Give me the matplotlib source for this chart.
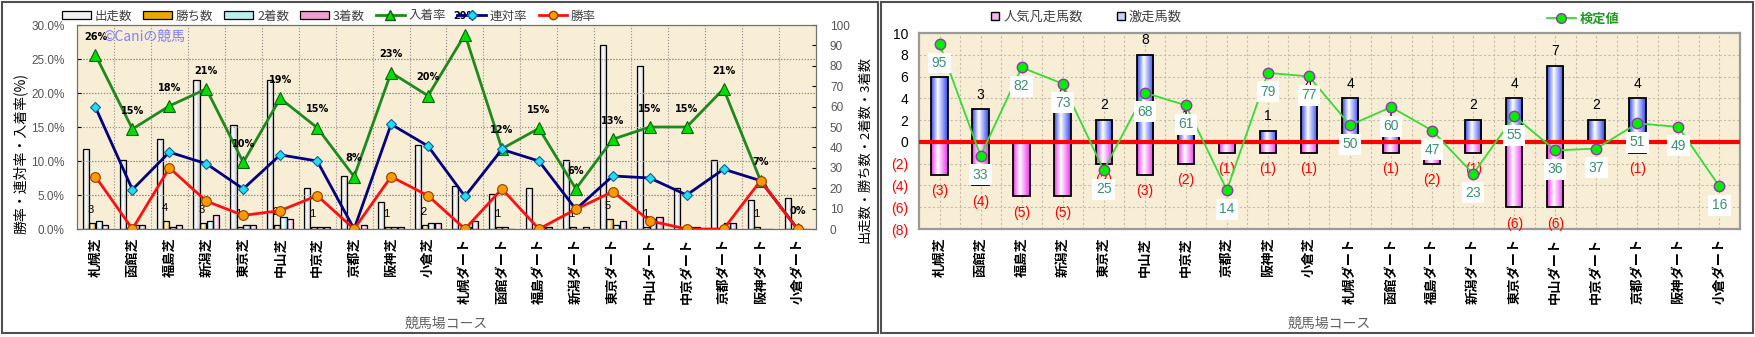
import numpy as np
import matplotlib
matplotlib.use('Agg')
import matplotlib.pyplot as plt
from matplotlib.colors import LinearSegmentedColormap
from matplotlib.lines import Line2D
from matplotlib.patches import Patch, Rectangle
from matplotlib.ticker import FixedLocator

plt.rcParams['font.family'] = ['Noto Sans CJK JP', 'DejaVu Sans']

courses = ['札幌芝', '函館芝', '福島芝', '新潟芝', '東京芝', '中山芝', '中京芝', '京都芝', '阪神芝', '小倉芝',
           '札幌ダート', '函館ダート', '福島ダート', '新潟ダート', '東京ダート', '中山ダート', '中京ダート',
           '京都ダート', '阪神ダート', '小倉ダート']

# left chart: counts (right axis) and rates in % (left axis)
runs = [39, 34, 44, 73, 51, 73, 20, 26, 13, 41, 21, 17, 20, 34, 90, 80, 20, 34, 14, 15]
wins = [3, 0, 4, 3, 1, 2, 1, 0, 1, 2, 0, 1, 0, 1, 5, 1, 0, 0, 1, 0]
seconds = [4, 2, 1, 4, 2, 6, 1, 0, 1, 3, 1, 1, 1, 0, 2, 5, 1, 3, 0, 0]
thirds = [2, 2, 2, 7, 2, 5, 1, 2, 1, 3, 4, 0, 1, 1, 4, 6, 1, 3, 0, 0]
place_rate = [25.6, 14.7, 18.1, 20.6, 9.8, 19.2, 14.9, 7.7, 23.0, 19.6,
              28.6, 11.8, 14.8, 5.9, 13.2, 15.0, 15.0, 20.6, 7.1, 0.0]
quinella_rate = [17.9, 5.8, 11.3, 9.6, 5.9, 10.9, 10.0, 0.0, 15.4, 12.2,
                 4.8, 11.7, 10.0, 2.9, 7.8, 7.5, 5.0, 8.8, 7.1, 0.0]
win_rate = [7.7, 0.0, 9.0, 4.1, 2.0, 2.7, 4.9, 0.0, 7.7, 4.9,
            0.0, 5.9, 0.0, 2.9, 5.5, 1.2, 0.0, 0.0, 7.1, 0.0]

# right chart
hot = [6, 3, 0, 3, 2, 8, 1, 0, 1, 4, 4, 1, 0, 2, 4, 7, 2, 4, 0, 0]
flop = [3, 4, 5, 5, 2, 3, 2, 1, 1, 1, 0, 1, 2, 1, 6, 6, 0, 1, 0, 0]
score = [95, 33, 82, 73, 25, 68, 61, 14, 79, 77, 50, 60, 47, 23, 55, 36, 37, 51, 49, 16]

W, H = 1756, 337
bg = '#F8EDD5'
num_font = 'Liberation Sans'


def shade(ax, bars, color, mid=0.42):
    cmap = LinearSegmentedColormap.from_list('g', [(0, color), (mid, 'white'), (1, color)])
    grad = np.linspace(0, 1, 64).reshape(1, -1)
    for b in bars:
        x0, y0 = b.get_xy()
        w, h = b.get_width(), b.get_height()
        if h == 0:
            continue
        im = ax.imshow(grad, extent=[x0, x0 + w, y0, y0 + h], cmap=cmap, aspect='auto',
                       origin='lower', zorder=b.get_zorder() - 0.05, interpolation='bilinear')
        im.set_clip_path(b)


fig = plt.figure(figsize=(W / 100, H / 100), dpi=100)

# panel frames
fig.add_artist(Rectangle((2 / W, 4 / H), 876 / W, 331 / H, transform=fig.transFigure,
                         fill=False, ec='#505050', lw=1.5))
fig.add_artist(Rectangle((881 / W, 4 / H), 872 / W, 331 / H, transform=fig.transFigure,
                         fill=False, ec='#505050', lw=1.5))

x = np.arange(len(courses))

# ---------------- left chart ----------------
axc = fig.add_axes([77 / W, 1 - 229 / H, 739 / W, 204 / H])
axc.set_facecolor(bg)
bw = 0.165
series = [(runs, '#C4C4C4', -0.265), (wins, '#E8A800', -0.088),
          (seconds, '#8EE4E8', 0.088), (thirds, '#EE88C8', 0.265)]
for vals, col, off in series:
    bars = axc.bar(x + off, vals, width=bw, color='none', edgecolor='black', lw=0.9, zorder=2)
    shade(axc, bars, col)
for i, v in enumerate(wins):
    if v > 0:
        axc.text(i - 0.13, v + 6.2, str(v), ha='center', va='center', fontsize=8,
                 family=num_font, zorder=3)
axc.set_xlim(-0.5, 19.5)
axc.set_ylim(0, 100)
axc.yaxis.set_minor_locator(FixedLocator(np.arange(1, 6) * 100 / 6))
axc.xaxis.set_minor_locator(FixedLocator(np.arange(0.5, 19.5, 1)))
axc.grid(which='minor', color='#8C8C8C', ls=':', lw=0.8)
axc.tick_params(which='minor', length=0)
axc.set_axisbelow(True)
axc.set_xticks(x, courses, rotation=90, fontsize=9.5, fontweight='bold')
axc.tick_params(axis='x', length=0, pad=6)
axc.set_xlabel('競馬場コース', fontsize=10, color='#606060', labelpad=4)
axc.xaxis.set_label_coords(0.5, -0.43)
for s in axc.spines.values():
    s.set_color('#707070')

axp = axc.twinx()
# counts axis on the right, rates axis on the left
axc.yaxis.tick_right()
axc.yaxis.set_label_position('right')
axc.set_yticks(np.arange(0, 101, 10))
axc.tick_params(axis='y', which='major', labelsize=8.5, labelcolor='#555555', direction='in',
                length=3, pad=10, labelfontfamily=num_font)
axc.set_ylabel('出走数・勝ち数・2着数・3着数', fontsize=9.5, rotation=90)
axc.yaxis.set_label_coords(1.057, 0.39)

axp.yaxis.tick_left()
axp.yaxis.set_label_position('left')
axp.plot(x, place_rate, color='#1E8A1E', lw=2, marker='^', ms=8.5, mfc='#00DD00',
         mec='#106010', mew=0.8, zorder=4)
axp.plot(x, quinella_rate, color='#000080', lw=2, marker='D', ms=5.5, mfc='#22DDEE',
         mec='#1060A0', mew=0.8, zorder=4)
axp.plot(x, win_rate, color='#FF1010', lw=2, marker='o', ms=7, mfc='#FF9900',
         mec='#904000', mew=0.8, zorder=4)
for i, v in enumerate(place_rate):
    axp.text(i, v + 2.7, f'{round(v)}%', ha='center', va='center', fontsize=7,
             fontweight='bold', family='DejaVu Sans', zorder=5)
axp.set_ylim(0, 30)
axp.set_xlim(-0.5, 19.5)
axp.set_yticks(np.arange(0, 31, 5), [f'{t:.1f}%' for t in range(0, 31, 5)])
axp.tick_params(axis='y', labelsize=8.5, labelcolor='#555555', direction='in', length=3,
                labelfontfamily=num_font, pad=9)
axp.grid(axis='y', color='#8C8C8C', ls=':', lw=0.8)
axp.set_ylabel('勝率・連対率・入着率(%)', fontsize=10)
axp.yaxis.set_label_coords(-0.066, 0.37)
for s in axp.spines.values():
    s.set_color('#707070')
axp.text(0.035, 0.94, '©Caniの競馬', transform=axp.transAxes, color='#8080FF',
         fontsize=10, ha='left', va='center', zorder=6)

left_handles = [Patch(fc='#F0F0F0', ec='black', lw=0.9), Patch(fc='#E8A800', ec='black', lw=0.9),
                Patch(fc='#B8F0F0', ec='black', lw=0.9), Patch(fc='#F0A0D0', ec='black', lw=0.9),
                Line2D([], [], color='#1E8A1E', lw=2, marker='^', ms=7, mfc='#00DD00', mec='#106010'),
                Line2D([], [], color='#000080', lw=2, marker='D', ms=5, mfc='#22DDEE', mec='#1060A0'),
                Line2D([], [], color='#FF1010', lw=2, marker='o', ms=6, mfc='#FF9900', mec='#904000')]
left_labels = ['出走数', '勝ち数', '2着数', '3着数', '入着率', '連対率', '勝率']
fig.legend(left_handles, left_labels, loc='center', bbox_to_anchor=(329 / W, 1 - 16 / H), ncol=7,
           frameon=False, fontsize=9, handlelength=2.3, handleheight=0.55, handletextpad=0.3,
           columnspacing=0.9, labelcolor='#404040')

# ---------------- right chart ----------------
axr = fig.add_axes([919 / W, 1 - 229 / H, 821 / W, 196 / H])
axr.set_facecolor(bg)
b_hot = axr.bar(x, hot, width=0.4, color='none', edgecolor='black', lw=1.3, zorder=2)
b_flop = axr.bar(x, -np.array(flop), width=0.4, color='none', edgecolor='black', lw=1.3, zorder=2)
shade(axr, b_hot, '#3048F0', mid=0.4)
shade(axr, b_flop, '#F030F0', mid=0.4)
axr.axhline(0, color='#FF0000', lw=3, zorder=3)
for i, v in enumerate(hot):
    if v > 0:
        axr.text(i, v + 1.35, str(v), ha='center', va='center', fontsize=10,
                 family=num_font, zorder=4)
for i, v in enumerate(flop):
    if v > 0:
        axr.text(i, -v - 1.5, f'({v})', ha='center', va='center', fontsize=10, color='#FF0000',
                 family=num_font, zorder=4)
axr.set_xlim(-0.5, 19.5)
axr.set_ylim(-8, 10)
yt = np.arange(-8, 11, 2)
axr.set_yticks(yt, [str(t) if t >= 0 else f'({-t})' for t in yt])
for lbl, t in zip(axr.get_yticklabels(), yt):
    lbl.set_color('#FF0000' if t < 0 else 'black')
axr.tick_params(axis='y', labelsize=10, length=0, pad=8, labelfontfamily=num_font)
axr.xaxis.set_minor_locator(FixedLocator(np.arange(0.5, 19.5, 1)))
axr.grid(which='both', color='#C4BCAC', ls=(0, (2, 2)), lw=0.8)
axr.tick_params(which='minor', length=0)
axr.set_axisbelow(True)
axr.set_xticks(x, courses, rotation=90, fontsize=9.5, fontweight='bold')
axr.tick_params(axis='x', length=0, pad=6)
axr.set_xlabel('競馬場コース', fontsize=10, color='#606060')
axr.xaxis.set_label_coords(0.5, -0.45)
for s in axr.spines.values():
    s.set_color('#9A9A9A')
    s.set_linewidth(1.6)

ax2 = axr.twinx()
ax2.set_ylim(-7.6, 101.1)
ax2.plot(x, score, color='#33DD33', lw=1.3, marker='o', ms=7.5, mfc='#00EE00', mec='#9933AA',
         mew=1, zorder=5)
for i, v in enumerate(score):
    ax2.annotate(str(v), (i, v), xytext=(0, -19), textcoords='offset pixels', ha='center',
                 va='center', fontsize=10, color='#3A9070', family=num_font, zorder=6,
                 bbox=dict(boxstyle='square,pad=0.25', fc='white', ec='none'))
ax2.set_yticks([])
for s in ax2.spines.values():
    s.set_visible(False)

right_handles = [Line2D([], [], marker='s', ls='none', ms=6, mfc='#F8B0F0', mec='black'),
                 Line2D([], [], marker='s', ls='none', ms=6, mfc='#C8D0FF', mec='black')]
fig.legend(right_handles, ['人気凡走馬数', '激走馬数'], loc='center',
           bbox_to_anchor=(1086 / W, 1 - 17 / H), ncol=2, frameon=False, fontsize=9.5,
           handlelength=0.8, handletextpad=0.2, columnspacing=2.5, labelcolor='#404040')
leg = fig.legend([Line2D([], [], color='#33DD33', lw=1.3, marker='o', ms=7, mfc='#00EE00',
                         mec='#9933AA')], ['検定値'], loc='center',
                 bbox_to_anchor=(1583 / W, 1 - 19 / H), frameon=False, fontsize=9.5,
                 handlelength=2.2, handletextpad=0.3)
for t in leg.get_texts():
    t.set_color('#229922')
    t.set_fontweight('bold')

fig.savefig('out.png', dpi=100)
